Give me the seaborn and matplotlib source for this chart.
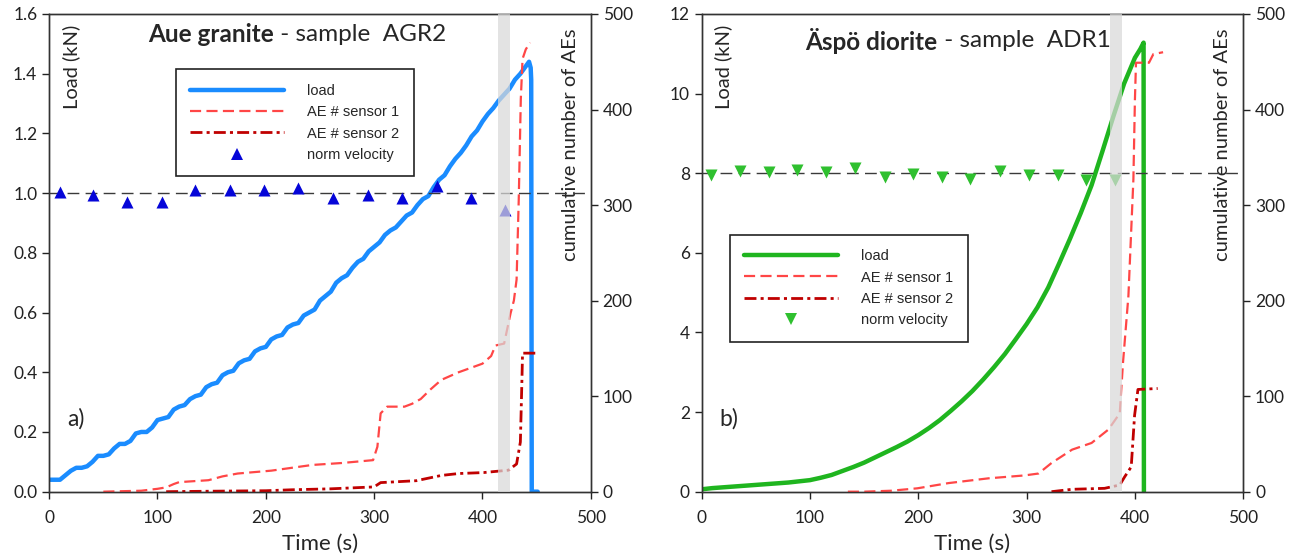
import matplotlib
matplotlib.use('Agg')
import matplotlib.pyplot as plt
from matplotlib.lines import Line2D
import seaborn as sns

sns.set_style('ticks')
plt.rcParams['font.family'] = ['Lato', 'DejaVu Sans']

# ---------------- panel a) Aue granite, sample AGR2 ----------------
time_a = [0, 5, 10, 15, 20, 25, 30, 35, 40, 45,
          50, 55, 60, 65, 70, 75, 80, 85, 90, 95,
          100, 105, 110, 115, 120, 125, 130, 135, 140, 145,
          150, 155, 160, 165, 170, 175, 180, 185, 190, 195,
          200, 205, 210, 215, 220, 225, 230, 235, 240, 245,
          250, 255, 260, 265, 270, 275, 280, 285, 290, 295,
          300, 305, 310, 315, 320, 325, 330, 335, 340, 345,
          350, 355, 360, 365, 370, 375, 380, 385, 390, 395,
          400, 405, 410, 415, 420, 425, 430, 435, 440,
          443, 444.5, 445, 445.5, 451]
load_a = [0.040, 0.040, 0.040, 0.055, 0.070, 0.080, 0.080, 0.085, 0.100, 0.120,
          0.120, 0.125, 0.145, 0.160, 0.160, 0.170, 0.195, 0.200, 0.200, 0.215,
          0.240, 0.245, 0.250, 0.275, 0.285, 0.290, 0.310, 0.320, 0.325, 0.350,
          0.360, 0.365, 0.390, 0.400, 0.405, 0.430, 0.440, 0.445, 0.470, 0.480,
          0.485, 0.510, 0.520, 0.525, 0.550, 0.560, 0.565, 0.590, 0.600, 0.610,
          0.640, 0.655, 0.670, 0.700, 0.715, 0.725, 0.750, 0.770, 0.780, 0.805,
          0.820, 0.835, 0.860, 0.875, 0.885, 0.905, 0.925, 0.935, 0.960, 0.980,
          0.990, 1.020, 1.045, 1.060, 1.090, 1.115, 1.135, 1.160, 1.190, 1.210,
          1.240, 1.265, 1.285, 1.310, 1.330, 1.350, 1.380, 1.400, 1.425,
          1.440, 1.420, 1.380, 0.0, 0.0]

ae1_a_t = [50, 85, 100, 108, 115, 120, 147, 160, 174, 205, 243, 270, 299, 303, 306,
           312, 328, 335, 343, 352, 362, 378, 400, 408, 412, 420, 426, 429, 431.5,
           433.5, 435.4, 437, 440, 444]
ae1_a = [0, 1, 3, 4.5, 8, 10, 12, 16, 19, 22, 28, 30, 33, 47, 82,
         89, 89, 92, 97, 107, 117, 125, 134, 142, 153, 155, 187, 200, 222,
         306, 411, 453, 463, 470]

ae2_a_t = [108, 150, 200, 224, 260, 300, 306, 339, 362, 378, 401, 424, 431.5, 435,
           436.5, 437, 449]
ae2_a = [0, 0.5, 1, 2, 3, 5, 9.5, 11.5, 17, 19, 20, 22.5, 29, 52, 120, 145, 145]

vel_a_t = [10, 40, 72, 104, 135, 167, 198, 230, 262, 294, 326, 358, 389, 421]
vel_a = [1.005, 0.995, 0.97, 0.97, 1.01, 1.01, 1.012, 1.017, 0.985, 0.993,
         0.985, 1.025, 0.985, 0.945]

# ---------------- panel b) Aspo diorite, sample ADR1 ----------------
time_b = [0, 10, 20, 30, 40, 50, 60, 70, 80, 90,
          100, 110, 120, 130, 140, 150, 160, 170, 180, 190,
          200, 210, 220, 230, 240, 250, 260, 270, 280, 290,
          300, 310, 320, 330, 340, 350, 360, 370, 380, 390,
          400, 405, 408, 408.3]
load_b = [0.06, 0.09, 0.11, 0.13, 0.15, 0.17, 0.19, 0.21, 0.23, 0.26,
          0.29, 0.35, 0.42, 0.52, 0.62, 0.73, 0.86, 0.99, 1.12, 1.26,
          1.42, 1.60, 1.80, 2.03, 2.27, 2.53, 2.82, 3.13, 3.46, 3.83,
          4.21, 4.63, 5.13, 5.73, 6.35, 7.00, 7.70, 8.55, 9.42, 10.25,
          10.90, 11.12, 11.28, 0.0]

ae1_b_t = [135, 150, 175, 199, 228, 265, 298, 311, 323, 342, 360, 375.5, 386, 389,
           394, 398.6, 400, 401, 413, 417, 426]
ae1_b = [0, 0, 1, 3.5, 9, 14, 17, 19, 30, 44, 51, 65, 82, 135,
         205, 327, 410, 449, 449, 458, 460]

ae2_b_t = [323, 342, 372, 386, 390.5, 396.6, 399.7, 402.8, 421]
ae2_b = [0, 2.5, 3.5, 7, 15.5, 26, 80, 107, 108]

vel_b_t = [9, 35, 62, 88, 115, 142, 169, 195, 222, 248, 275, 302, 329, 355, 382]
vel_b = [0.996, 1.006, 1.004, 1.011, 1.004, 1.015, 0.987, 0.998, 0.987, 0.983,
         1.006, 0.994, 0.994, 0.98, 0.98]

RED = '#ff4646'
DARKRED = '#c00000'
RED_DASH = (0, (5.0, 2.4))
DARK_DASH = (0, (4.3, 1.5, 1.1, 1.5))
TICK_FS = 12.5


def draw_panel(rect, t_load, load, t1, ae1, t2, ae2, tv, vel,
               load_color, vel_color, vel_marker, load_max, load_step, vel_max,
               band, bold_title, rest_title, title_x, title_y, letter, legend_xy):
    ax = fig.add_axes(rect)
    ax2 = ax.twinx()
    ax3 = ax.twinx()

    sns.lineplot(x=t_load, y=load, ax=ax, estimator=None, sort=False,
                 color=load_color, linewidth=3.2)
    sns.lineplot(x=t1, y=ae1, ax=ax2, estimator=None, sort=False,
                 color=RED, linewidth=1.6, linestyle=RED_DASH)
    sns.lineplot(x=t2, y=ae2, ax=ax2, estimator=None, sort=False,
                 color=DARKRED, linewidth=2.0, linestyle=DARK_DASH)
    ax3.axhline(1.0, color='#3a3a3a', linewidth=1.0, linestyle=(0, (8.5, 4.5)), zorder=1)
    sns.scatterplot(x=tv, y=vel, ax=ax3, marker=vel_marker, s=75,
                    color=vel_color, edgecolor=vel_color, linewidth=0, zorder=3)
    ax3.axvspan(band[0], band[1], color='#d9d9d9', alpha=0.72, linewidth=0, zorder=6)

    ax.set_xlim(0, 500)
    ax.set_ylim(0, load_max)
    ax2.set_ylim(0, 500)
    ax3.set_ylim(0, vel_max)
    ax.set_xticks([0, 100, 200, 300, 400, 500])
    ax.set_yticks([i * load_step for i in range(int(round(load_max / load_step)) + 1)])
    if load_step < 1:
        ax.set_yticklabels(['%.1f' % v for v in ax.get_yticks()])
    ax2.set_yticks([0, 100, 200, 300, 400, 500])
    ax3.set_axis_off()

    for a in (ax, ax2):
        a.tick_params(direction='out', length=5, width=1, labelsize=TICK_FS,
                      colors='#222222')
        for s in a.spines.values():
            s.set_visible(True)
            s.set_color('#333333')
            s.set_linewidth(1.0)
        a.set_ylabel('')
    ax.set_xlabel('Time (s)', fontsize=16, labelpad=6)
    ax.tick_params(axis='x', pad=8)

    ax.text(title_x, title_y, bold_title, transform=ax.transAxes, fontsize=17.5,
            fontweight='bold', ha='right', va='center')
    ax.text(title_x, title_y, rest_title, transform=ax.transAxes, fontsize=17.5,
            ha='left', va='center')
    ax.text(0.04, 0.89, 'Load (kN)', transform=ax.transAxes, rotation=90,
            fontsize=14.5, ha='center', va='center')
    ax.text(0.962, 0.727, 'cumulative number of AEs', transform=ax.transAxes,
            rotation=90, fontsize=14.5, ha='center', va='center')
    ax.text(0.033, 0.153, letter, transform=ax.transAxes, fontsize=16.5,
            ha='left', va='center')

    handles = [
        Line2D([], [], color=load_color, linewidth=3.2),
        Line2D([], [], color=RED, linewidth=1.6, linestyle=RED_DASH),
        Line2D([], [], color=DARKRED, linewidth=2.0, linestyle=DARK_DASH),
        Line2D([], [], color=vel_color, marker=vel_marker, linestyle='none',
               markersize=9, markeredgewidth=0),
    ]
    labels = ['load', 'AE # sensor 1', 'AE # sensor 2', 'norm velocity']
    leg = ax3.legend(handles, labels, loc='upper left', bbox_to_anchor=legend_xy,
                     borderaxespad=0, frameon=True, fancybox=False, framealpha=1,
                     edgecolor='#222222', handlelength=6.4, handletextpad=1.6,
                     labelspacing=0.5, borderpad=1.0,
                     prop={'family': 'Liberation Sans', 'size': 10.5})
    leg.get_frame().set_linewidth(1.2)
    leg.set_zorder(10)
    return ax


fig = plt.figure(figsize=(13.01, 5.6), dpi=100)

draw_panel([0.0378, 0.122, 0.4163, 0.853], time_a, load_a, ae1_a_t, ae1_a,
           ae2_a_t, ae2_a, vel_a_t, vel_a, '#1a8cff', '#0505d8', '^',
           1.6, 0.2, 1.6, (414, 425), 'Aue granite', ' - sample  AGR2',
           0.415, 0.958, 'a)', (0.234, 0.884))

draw_panel([0.5393, 0.122, 0.4163, 0.853], time_b, load_b, ae1_b_t, ae1_b,
           ae2_b_t, ae2_b, vel_b_t, vel_b, '#1fb51f', '#2fc02f', 'v',
           12, 2, 1.5, (377, 388), '\u00c4sp\u00f6 diorite', ' - sample  ADR1',
           0.4356, 0.944, 'b)', (0.052, 0.538))

fig.savefig('out.png', dpi=100)
